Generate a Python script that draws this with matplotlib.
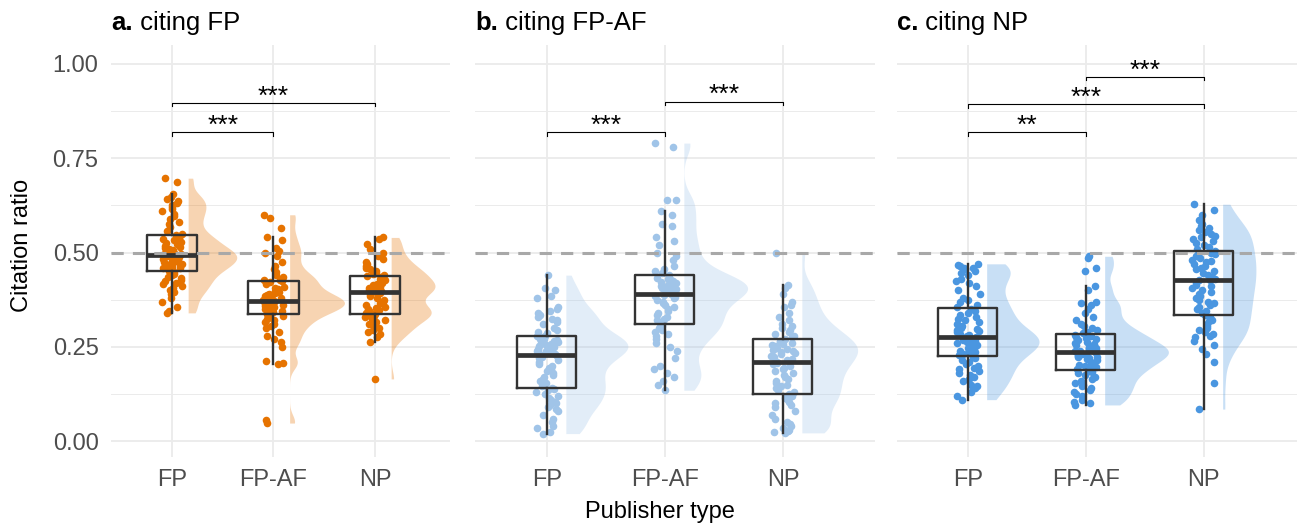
"""Raincloud plots: citation ratio by publisher type, three citing groups."""

import matplotlib

matplotlib.use("Agg")
import matplotlib.pyplot as plt
import numpy as np

plt.rcParams["font.family"] = ["Liberation Sans", "DejaVu Sans"]

CATS = ["FP", "FP-AF", "NP"]
LETTERS = ["a.", "b.", "c."]
TITLES = ["citing FP", "citing FP-AF", "citing NP"]
COLORS = ["#e67300", "#a0c4e8", "#4a96e0"]

# citing FP -> cited FP / FP-AF / NP
A_FP = [0.697, 0.688, 0.655, 0.648, 0.642, 0.636, 0.632, 0.626, 0.62, 0.615, 0.61, 0.603,
        0.598, 0.59, 0.582, 0.575, 0.568, 0.556, 0.55, 0.546, 0.542, 0.538, 0.535, 0.532,
        0.528, 0.525, 0.522, 0.518, 0.515, 0.512, 0.51, 0.507, 0.504, 0.501, 0.499, 0.497,
        0.496, 0.495, 0.494, 0.492, 0.49, 0.488, 0.486, 0.484, 0.482, 0.48, 0.478, 0.475,
        0.473, 0.47, 0.468, 0.466, 0.464, 0.462, 0.46, 0.458, 0.456, 0.452, 0.448, 0.444,
        0.44, 0.436, 0.432, 0.428, 0.424, 0.42, 0.416, 0.41, 0.405, 0.40, 0.395, 0.39,
        0.38, 0.37, 0.355, 0.345, 0.34]
A_FPAF = [0.60, 0.592, 0.565, 0.54, 0.532, 0.512, 0.505, 0.50, 0.49, 0.475, 0.465, 0.455,
          0.448, 0.44, 0.435, 0.43, 0.428, 0.426, 0.425, 0.422, 0.416, 0.408, 0.405, 0.402,
          0.398, 0.395, 0.392, 0.39, 0.387, 0.384, 0.381, 0.379, 0.377, 0.375, 0.373, 0.372,
          0.371, 0.37, 0.369, 0.367, 0.365, 0.363, 0.361, 0.359, 0.357, 0.355, 0.353, 0.351,
          0.349, 0.347, 0.345, 0.343, 0.341, 0.337, 0.333, 0.33, 0.325, 0.32, 0.315, 0.31,
          0.305, 0.30, 0.29, 0.28, 0.27, 0.262, 0.25, 0.212, 0.208, 0.205, 0.055, 0.048]
A_NP = [0.54, 0.535, 0.522, 0.51, 0.50, 0.49, 0.482, 0.475, 0.47, 0.465, 0.46, 0.455,
        0.45, 0.447, 0.445, 0.442, 0.44, 0.437, 0.435, 0.43, 0.426, 0.422, 0.42, 0.416,
        0.414, 0.412, 0.41, 0.408, 0.406, 0.404, 0.402, 0.40, 0.398, 0.396, 0.394, 0.39,
        0.385, 0.38, 0.375, 0.37, 0.365, 0.36, 0.355, 0.352, 0.35, 0.348, 0.346, 0.344,
        0.342, 0.339, 0.337, 0.335, 0.333, 0.33, 0.328, 0.325, 0.32, 0.315, 0.31, 0.305,
        0.30, 0.295, 0.29, 0.285, 0.275, 0.262, 0.165]

# citing FP-AF
B_FP = [0.44, 0.405, 0.40, 0.385, 0.38, 0.355, 0.35, 0.345, 0.34, 0.335, 0.33, 0.325,
        0.32, 0.315, 0.31, 0.30, 0.295, 0.29, 0.286, 0.28, 0.278, 0.275, 0.272, 0.27,
        0.268, 0.265, 0.262, 0.26, 0.258, 0.255, 0.252, 0.25, 0.248, 0.245, 0.242, 0.24,
        0.238, 0.235, 0.232, 0.228, 0.226, 0.224, 0.22, 0.215, 0.21, 0.205, 0.2, 0.195,
        0.19, 0.185, 0.18, 0.175, 0.17, 0.165, 0.16, 0.155, 0.15, 0.145, 0.142, 0.138,
        0.135, 0.13, 0.125, 0.12, 0.115, 0.11, 0.105, 0.10, 0.095, 0.09, 0.085, 0.08,
        0.07, 0.06, 0.05, 0.04, 0.035, 0.025, 0.02]
B_FPAF = [0.79, 0.78, 0.64, 0.638, 0.61, 0.60, 0.575, 0.57, 0.54, 0.53, 0.52, 0.50,
          0.49, 0.48, 0.465, 0.455, 0.45, 0.445, 0.44, 0.433, 0.43, 0.428, 0.425, 0.423,
          0.42, 0.418, 0.415, 0.412, 0.41, 0.408, 0.405, 0.402, 0.40, 0.397, 0.394, 0.39,
          0.388, 0.386, 0.383, 0.38, 0.375, 0.37, 0.365, 0.36, 0.355, 0.35, 0.345, 0.34,
          0.335, 0.33, 0.325, 0.32, 0.315, 0.312, 0.305, 0.30, 0.295, 0.29, 0.285, 0.28,
          0.27, 0.26, 0.25, 0.24, 0.22, 0.2, 0.19, 0.18, 0.17, 0.16, 0.15, 0.135]
B_NP = [0.50, 0.415, 0.405, 0.39, 0.37, 0.36, 0.355, 0.34, 0.33, 0.32, 0.31, 0.305,
        0.30, 0.295, 0.29, 0.285, 0.28, 0.275, 0.27, 0.266, 0.263, 0.26, 0.257, 0.254,
        0.251, 0.248, 0.245, 0.242, 0.24, 0.237, 0.234, 0.23, 0.226, 0.222, 0.218, 0.214,
        0.21, 0.208, 0.205, 0.2, 0.195, 0.19, 0.185, 0.18, 0.175, 0.17, 0.165, 0.16,
        0.155, 0.15, 0.145, 0.14, 0.135, 0.13, 0.125, 0.12, 0.115, 0.11, 0.105, 0.1,
        0.095, 0.09, 0.08, 0.07, 0.06, 0.05, 0.045, 0.04, 0.035, 0.03, 0.028, 0.025, 0.022]

# citing NP
C_FP = [0.47, 0.468, 0.465, 0.46, 0.458, 0.455, 0.45, 0.445, 0.44, 0.43, 0.425, 0.42,
        0.41, 0.40, 0.39, 0.38, 0.375, 0.37, 0.36, 0.355, 0.35, 0.345, 0.34, 0.335,
        0.33, 0.325, 0.32, 0.315, 0.31, 0.305, 0.30, 0.297, 0.294, 0.291, 0.288, 0.285,
        0.282, 0.279, 0.277, 0.275, 0.273, 0.271, 0.269, 0.267, 0.265, 0.262, 0.26, 0.257,
        0.255, 0.252, 0.25, 0.248, 0.245, 0.242, 0.24, 0.237, 0.234, 0.231, 0.228, 0.224,
        0.22, 0.215, 0.21, 0.205, 0.2, 0.195, 0.19, 0.185, 0.18, 0.175, 0.17, 0.165,
        0.16, 0.15, 0.145, 0.14, 0.13, 0.12, 0.11]
C_FPAF = [0.49, 0.485, 0.46, 0.452, 0.41, 0.40, 0.37, 0.365, 0.36, 0.35, 0.34, 0.33,
          0.32, 0.31, 0.305, 0.30, 0.295, 0.29, 0.286, 0.282, 0.279, 0.276, 0.273, 0.27,
          0.267, 0.264, 0.261, 0.258, 0.255, 0.252, 0.25, 0.248, 0.246, 0.244, 0.242, 0.24,
          0.238, 0.236, 0.234, 0.232, 0.23, 0.228, 0.226, 0.224, 0.222, 0.22, 0.217, 0.214,
          0.211, 0.208, 0.205, 0.202, 0.199, 0.196, 0.193, 0.19, 0.186, 0.183, 0.18, 0.175,
          0.17, 0.165, 0.16, 0.155, 0.15, 0.145, 0.14, 0.135, 0.13, 0.125, 0.12, 0.11,
          0.105, 0.1, 0.096]
C_NP = [0.628, 0.612, 0.6, 0.585, 0.575, 0.57, 0.565, 0.56, 0.555, 0.55, 0.545, 0.54,
        0.535, 0.53, 0.525, 0.52, 0.515, 0.51, 0.505, 0.5, 0.495, 0.49, 0.485, 0.48,
        0.477, 0.474, 0.47, 0.465, 0.46, 0.455, 0.45, 0.445, 0.44, 0.435, 0.43, 0.428,
        0.426, 0.42, 0.415, 0.41, 0.405, 0.4, 0.395, 0.39, 0.385, 0.38, 0.375, 0.37,
        0.365, 0.36, 0.355, 0.35, 0.345, 0.34, 0.335, 0.328, 0.322, 0.318, 0.31, 0.305,
        0.3, 0.295, 0.29, 0.285, 0.28, 0.275, 0.265, 0.255, 0.245, 0.23, 0.21, 0.155, 0.085]

GROUPS = [[A_FP, A_FPAF, A_NP], [B_FP, B_FPAF, B_NP], [C_FP, C_FPAF, C_NP]]

# pairwise tests: (group i, group j, label)
SIG = [
    [(0, 1, "***"), (0, 2, "***")],
    [(0, 1, "***"), (1, 2, "***")],
    [(0, 1, "**"), (0, 2, "***"), (1, 2, "***")],
]
SIG_Y = [[0.82, 0.897], [0.82, 0.90], [0.82, 0.894, 0.966]]


def kde(vals, grid, adjust=0.7):
    v = np.asarray(vals)
    n = len(v)
    iqr = np.subtract(*np.percentile(v, [75, 25]))
    bw = 0.9 * min(v.std(ddof=1), iqr / 1.34) * n ** -0.2 * adjust
    z = (grid[:, None] - v[None, :]) / bw
    return np.exp(-0.5 * z ** 2).sum(1) / (n * bw * np.sqrt(2 * np.pi))


def jitter(n, seed):
    # deterministic scatter of horizontal offsets in [-1, 1]
    k = np.arange(n) + seed * 101.0
    return (np.sin(k * 12.9898 + 78.233) * 43758.5453) % 1 * 2 - 1


W, H = 1298, 526
fig = plt.figure(figsize=(W / 100, H / 100), dpi=100)
lefts = [111, 475, 897]
widths = [339, 400, 400]
xlims = [(0.4, 3.74), (0.39, 3.78), (0.4, 3.79)]

for p in range(3):
    ax = fig.add_axes([lefts[p] / W, 1 - 457 / H, widths[p] / W, 412 / H])
    color = COLORS[p]
    pos = np.arange(1, 4)

    # half violins (trimmed, area-like scaling within the panel)
    curves = []
    for vals in GROUPS[p]:
        grid = np.linspace(min(vals), max(vals), 300)
        curves.append((grid, kde(vals, grid)))
    dmax = max(d.max() for _, d in curves)
    for x0, (grid, d) in zip(pos, curves):
        ax.fill_betweenx(grid, x0 + 0.16, x0 + 0.16 + d / dmax * 0.54,
                         color=color, alpha=0.3, lw=0, zorder=2)

    # jittered points
    for g, (x0, vals) in enumerate(zip(pos, GROUPS[p])):
        off = jitter(len(vals), 3 * p + g) * 0.1
        ax.scatter(x0 + off, vals, s=30, color=color, lw=0, zorder=3)

    ax.boxplot(GROUPS[p], positions=pos, widths=0.5, showfliers=False, showcaps=False,
               boxprops=dict(color="#333333", lw=1.7),
               whiskerprops=dict(color="#333333", lw=1.7),
               medianprops=dict(color="#333333", lw=3.4),
               zorder=4, manage_ticks=False)

    ax.axhline(0.5, color="#a8a8a8", lw=2.2, dashes=(4, 3), zorder=5)

    for (i, j, lab), y in zip(SIG[p], SIG_Y[p]):
        ax.plot([pos[i], pos[i], pos[j], pos[j]], [y - 0.01, y, y, y - 0.01],
                color="black", lw=0.8, zorder=6)
        ax.text((pos[i] + pos[j]) / 2, y - 0.002, lab, ha="center", va="baseline",
                fontsize=19, zorder=6)

    ax.set_xlim(*xlims[p])
    ax.set_ylim(-0.042, 1.05)
    ax.set_xticks(pos)
    ax.set_xticklabels(CATS)
    ax.set_yticks([0, 0.25, 0.5, 0.75, 1.0])
    ax.set_yticks([0.125, 0.375, 0.625, 0.875], minor=True)
    if p == 0:
        ax.set_yticklabels(["0.00", "0.25", "0.50", "0.75", "1.00"])
    else:
        ax.set_yticklabels([])
    ax.tick_params(which="both", length=0, labelsize=17, colors="#4d4d4d", pad=9)
    ax.grid(True, which="major", color="#ebebeb", lw=1.3, zorder=0)
    ax.grid(True, which="minor", axis="y", color="#ebebeb", lw=0.7, zorder=0)
    ax.set_axisbelow(True)
    for s in ax.spines.values():
        s.set_visible(False)

    t = fig.text(lefts[p] / W, 1 - 35 / H, LETTERS[p], fontsize=18.5,
                 fontweight="bold", ha="left", va="bottom")
    ax.annotate(" " + TITLES[p], xy=(1, 0), xycoords=t, fontsize=18.5,
                ha="left", va="bottom", annotation_clip=False)

fig.text(660 / W, 1 - 512 / H, "Publisher type", fontsize=17, ha="center", va="center")
fig.text(22 / W, 1 - 245 / H, "Citation ratio", fontsize=17, ha="center", va="center",
         rotation=90)

fig.savefig("out.png", dpi=100)
